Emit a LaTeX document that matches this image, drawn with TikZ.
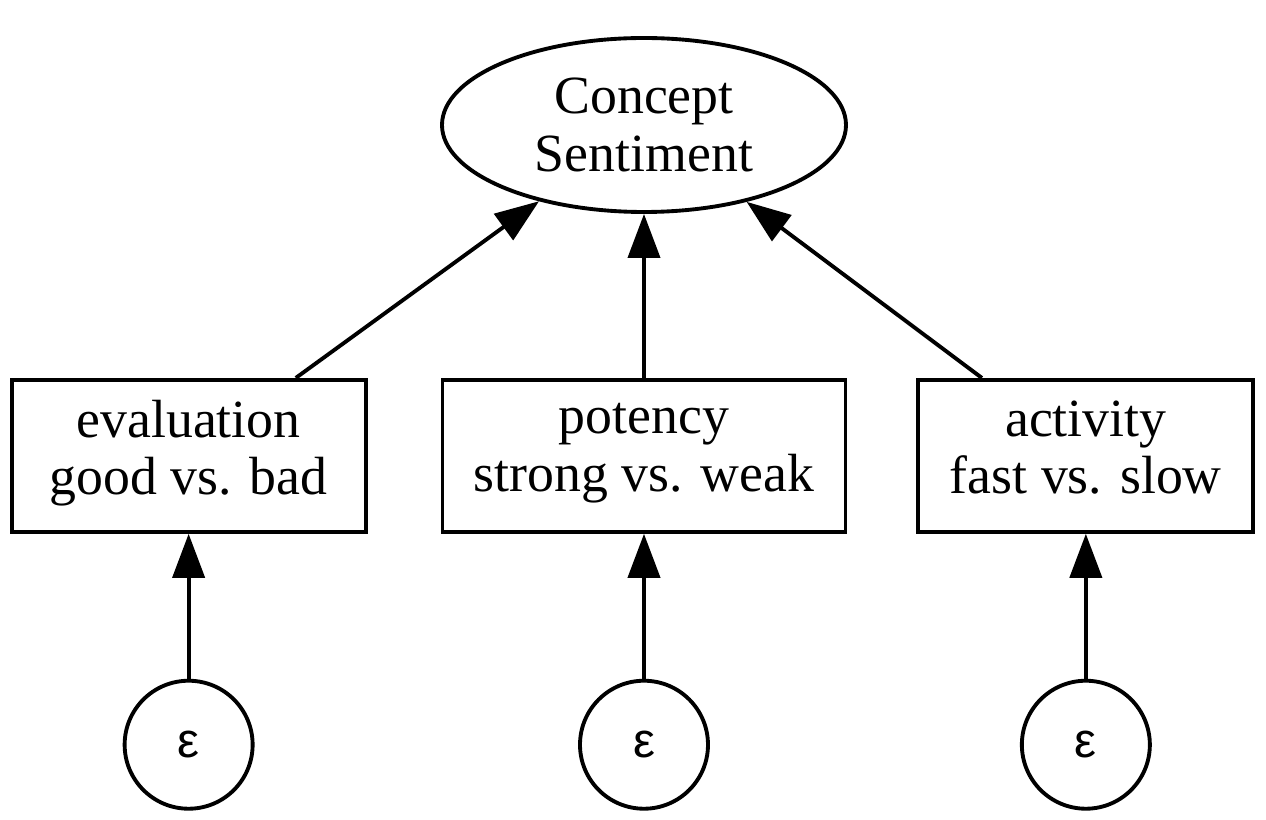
\documentclass[tikz,border=0pt]{standalone}
\usepackage{fontspec}
\setmainfont{Liberation Serif}
\newfontfamily\epsfont{Liberation Sans}
\usetikzlibrary{shapes.geometric, arrows.meta, positioning}
\tikzset{
    construct/.style={ellipse, draw=black, line width=1.1pt, minimum width=4.04cm, minimum height=1.74cm, inner sep=0pt, align=center, font=\fontsize{15.3}{16.4}\selectfont},
    factor/.style={rectangle, draw=black, line width=1.1pt, minimum height=1.52cm, inner sep=0pt, align=center, font=\fontsize{15.3}{16.4}\selectfont, execute at begin node=\strut, execute at end node=\strut},
    errnode/.style={circle, draw=black, line width=1.1pt, minimum size=1.28cm, inner sep=0pt, font=\epsfont\fontsize{14}{16}\selectfont},
    arrow/.style={line width=1.1pt, -{Triangle[length=0.44cm, width=0.32cm]}}
}
\begin{document}
\begin{tikzpicture}
    \useasboundingbox (0,0) rectangle (12.66,-8.20);
    \node (concept) [construct] at (6.44,-1.25) {Concept\\Sentiment};
    \node (potency) [factor, minimum width=4.03cm, below=1.64cm of concept] {potency\\strong vs. weak};
    \node (evaluation) [factor, minimum width=3.54cm, left=0.73cm of potency] {evaluation\\good vs. bad};
    \node (activity) [factor, minimum width=3.35cm, right=0.69cm of potency] {activity\\fast vs. slow};
    \node (epsEval) [errnode, below=1.45cm of evaluation] {ε};
    \node (epsPot) [errnode, below=1.45cm of potency] {ε};
    \node (epsAct) [errnode, below=1.45cm of activity] {ε};

    \draw [arrow] (evaluation) -- (concept);
    \draw [arrow] (potency) -- (concept);
    \draw [arrow] (activity) -- (concept);
    \draw [arrow] (epsEval) -- (evaluation);
    \draw [arrow] (epsPot) -- (potency);
    \draw [arrow] (epsAct) -- (activity);
\end{tikzpicture}
\end{document}
